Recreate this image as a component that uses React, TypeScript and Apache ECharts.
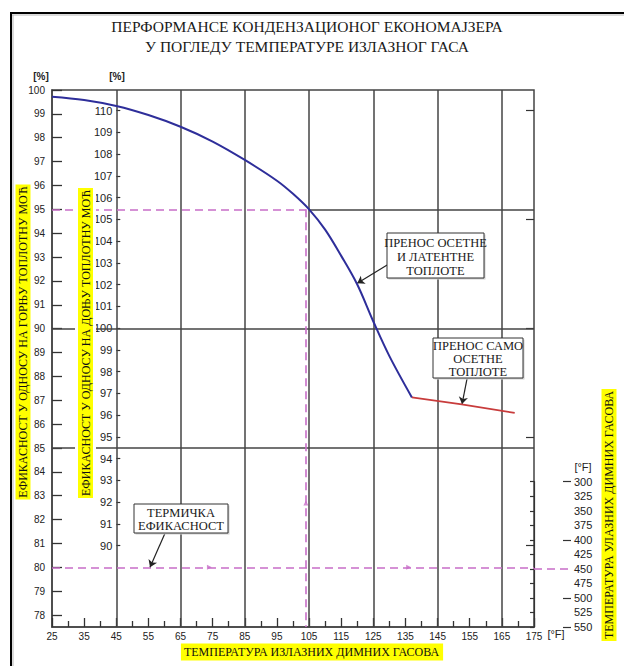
import React, { useEffect, useRef } from "react";
import * as echarts from "echarts";

// ---------- data ----------
const titleLines = [
  "ПЕРФОРМАНСЕ КОНДЕНЗАЦИОНОГ ЕКОНОМАЈЗЕРА",
  "У ПОГЛЕДУ ТЕМПЕРАТУРЕ ИЗЛАЗНОГ ГАСА",
];
const exitTempMin = 25;
const exitTempMax = 175;
const hhvMin = 77.5;
const hhvMax = 100;
const hhvTickMin = 78;
const lhvTickMin = 90;
const lhvTickMax = 110;
const inletTempMin = 300;
const inletTempMax = 550;

const latentX = [25, 35, 45, 55, 65, 75, 85, 95, 100, 105, 110, 115, 120, 125, 130, 137];
const latentY = [99.72, 99.58, 99.33, 98.95, 98.46, 97.84, 97.07, 96.2, 95.65, 95.0, 94.15, 93.05, 91.85, 90.3, 88.85, 87.12];
const sensibleX = [137, 152, 169];
const sensibleY = [87.12, 86.84, 86.47];

const gridVerticals = [45, 65, 85, 105, 125, 145, 165];
const gridHorizontals = [85, 90];
const partialGrid = { y: 95, fromX: 105, toX: 175 };

const markedEff = 95;
const markedExit = 104;
const thermalEff = 80;
const inletMarked = 450;
const guideArrowsUp = [[104, 82.7]];
const guideArrowsRight = [[74, 80], [136, 80]];

const calloutArrows = [
  [[129.3, 92.67], [120, 91.9]],
  [[154.2, 87.93], [152.6, 86.84]],
  [[60.2, 81.44], [55.5, 80.0]],
];

const yLabelHHV = "ЕФИКАСНОСТ У ОДНОСУ НА ГОРЊУ ТОПЛОТНУ МОЋ";
const yLabelLHV = "ЕФИКАСНОСТ У ОДНОСУ НА ДОЊУ ТОПЛОТНУ МОЋ";
const xLabel = "ТЕМПЕРАТУРА ИЗЛАЗНИХ ДИМНИХ ГАСОВА";
const rightLabel = "ТЕМПЕРАТУРА УЛАЗНИХ ДИМНИХ ГАСОВА";
const callout1 = ["ПРЕНОС ОСЕТНЕ", "И ЛАТЕНТНЕ", "ТОПЛОТЕ"];
const callout2 = ["ПРЕНОС САМО", "ОСЕТНЕ", "ТОПЛОТЕ"];
const callout3 = ["ТЕРМИЧКА", "ЕФИКАСНОСТ"];

// ---------- layout ----------
const W = 624;
const H = 666;
const PL = 52;
const PR = 534;
const PT = 90;
const PB = 627;
const yPix = (v: number) => PT + ((hhvMax - v) / (hhvMax - hhvMin)) * (PB - PT);
const INNER_X = 116.3;
const INNER_TOP = 110.5;
const INNER_BOTTOM = 545.7;
const RIGHT_X = 571;
const RIGHT_TOP = 481.7;

const GRID_C = "#444";
const MAGENTA = "#c86ec8";
const SERIF = '"Liberation Serif", "Times New Roman", serif';
const NARROW = '"Liberation Sans Narrow", "Arial Narrow", "Liberation Sans", sans-serif';
const SANS = '"Liberation Sans", Arial, sans-serif';

function calloutBox(x: number, y: number, w: number, h: number, lines: string[], lh: number) {
  return {
    type: "group",
    z: 100,
    children: [
      { type: "rect", shape: { x: x + 1.5, y: y + 1.5, width: w, height: h }, style: { fill: "#cfcfcf" }, z: 100 },
      { type: "rect", shape: { x, y, width: w, height: h }, style: { fill: "#fff", stroke: "#333", lineWidth: 1 }, z: 101 },
      {
        type: "text",
        x: x + w / 2,
        y: y + h / 2 + 1,
        z: 102,
        style: {
          text: lines.join("\n"),
          fill: "#1a1a1a",
          fontSize: 12.5,
          fontFamily: SERIF,
          lineHeight: lh,
          align: "center",
          verticalAlign: "middle",
          textAlign: "center",
          textVerticalAlign: "middle",
        },
      },
    ],
  };
}

function vLabel(cx: number, cy: number, text: string, white: boolean) {
  return {
    type: "text",
    x: cx,
    y: cy,
    rotation: Math.PI / 2,
    z: 110,
    style: {
      text,
      fill: "#111",
      fontSize: 12,
      fontFamily: SERIF,
      backgroundColor: "#ffff00",
      padding: [2, 2, 1, 2],
      borderColor: white ? "#fff" : undefined,
      borderWidth: white ? 3 : 0,
      align: "center",
      verticalAlign: "middle",
      textAlign: "center",
      textVerticalAlign: "middle",
    },
  };
}

export default function App() {
  const ref = useRef<HTMLDivElement>(null);
  useEffect(() => {
    if (!ref.current) return;
    const chart = echarts.init(ref.current, null, { renderer: "svg" });
    const hiddenX = (gridIndex: number, min = 0, max = 1) => ({ type: "value", gridIndex, min, max, show: false });
    const option: any = {
      animation: false,
      backgroundColor: "#fff",
      grid: [
        { left: PL, right: W - PR, top: PT, bottom: H - PB, show: true, borderColor: GRID_C, borderWidth: 1.5, backgroundColor: "transparent" },
        { left: PL, right: W - PR, top: PT, bottom: H - yPix(hhvTickMin) },
        { left: INNER_X, right: W - PR, top: INNER_TOP, bottom: H - INNER_BOTTOM },
        { left: PR, right: W - RIGHT_X, top: RIGHT_TOP, bottom: H - PB },
      ],
      xAxis: [
        {
          type: "value",
          gridIndex: 0,
          min: exitTempMin,
          max: exitTempMax,
          interval: 10,
          axisLine: { show: true, lineStyle: { color: GRID_C, width: 1.5 } },
          axisTick: { show: true, inside: true, length: 9, lineStyle: { color: "#333", width: 1.3 } },
          minorTick: { show: true, splitNumber: 2, length: 6, lineStyle: { color: "#333", width: 1.3 } },
          axisLabel: { color: "#222", fontSize: 10, margin: 4, fontFamily: SANS },
          splitLine: { show: false },
        },
        hiddenX(1, exitTempMin, exitTempMax),
        hiddenX(2, exitTempMin, exitTempMax),
        hiddenX(3, 0, 1),
      ],
      yAxis: [
        {
          type: "value",
          gridIndex: 0,
          min: hhvMin,
          max: hhvMax,
          axisLine: { show: true, lineStyle: { color: GRID_C, width: 1.5 } },
          axisTick: { show: false },
          axisLabel: { show: false },
          splitLine: { show: false },
        },
        {
          type: "value",
          gridIndex: 1,
          min: hhvTickMin,
          max: hhvMax,
          interval: 1,
          axisLine: { show: false },
          axisTick: { show: true, inside: true, length: 10, lineStyle: { color: "#333", width: 1.3 } },
          axisLabel: { color: "#222", fontSize: 10, margin: 7, fontFamily: NARROW },
          splitLine: { show: false },
        },
        {
          type: "value",
          gridIndex: 2,
          min: lhvTickMin,
          max: lhvTickMax,
          interval: 1,
          axisLine: { show: false },
          axisTick: { show: true, inside: true, length: 4, lineStyle: { color: "#333", width: 1.2 } },
          axisLabel: { color: "#222", fontSize: 11, margin: 4, fontFamily: NARROW },
          splitLine: { show: false },
        },
        {
          type: "value",
          gridIndex: 2,
          min: lhvTickMin,
          max: lhvTickMax,
          interval: 5,
          axisLine: { show: false },
          axisTick: { show: true, inside: true, length: 8, lineStyle: { color: "#333", width: 1.2 } },
          axisLabel: { show: false },
          splitLine: { show: false },
        },
        {
          type: "value",
          gridIndex: 3,
          position: "right",
          inverse: true,
          min: inletTempMin,
          max: inletTempMax,
          interval: 25,
          axisLine: { show: true, lineStyle: { color: "#333", width: 1.2 } },
          axisTick: { show: true, inside: true, length: 4, lineStyle: { color: "#333", width: 1.2 } },
          axisLabel: { color: "#222", fontSize: 11, margin: 3, fontFamily: NARROW },
          splitLine: { show: false },
        },
        {
          type: "value",
          gridIndex: 3,
          position: "right",
          inverse: true,
          min: inletTempMin,
          max: inletTempMax,
          interval: 100,
          axisLine: { show: false },
          axisTick: { show: true, inside: true, length: 8, lineStyle: { color: "#333", width: 1.2 } },
          axisLabel: { show: false },
          splitLine: { show: false },
        },
      ],
      series: [
        {
          type: "line",
          xAxisIndex: 0,
          yAxisIndex: 0,
          data: [],
          z: 1,
          silent: true,
          markLine: {
            silent: true,
            symbol: ["none", "none"],
            label: { show: false },
            lineStyle: { color: GRID_C, width: 1.5, type: "solid" },
            data: [
              ...gridVerticals.map((v) => ({ xAxis: v })),
              ...gridHorizontals.map((v) => ({ yAxis: v })),
              [{ coord: [partialGrid.fromX, partialGrid.y] }, { coord: [partialGrid.toX, partialGrid.y] }],
            ],
          },
        },
        {
          type: "line",
          xAxisIndex: 0,
          yAxisIndex: 0,
          data: [],
          z: 3,
          silent: true,
          markLine: {
            silent: true,
            symbol: ["none", "none"],
            label: { show: false },
            lineStyle: { color: MAGENTA, width: 1.6, type: [8, 5] },
            data: [
              [{ coord: [exitTempMin, markedEff] }, { coord: [markedExit, markedEff] }],
              [{ coord: [markedExit, markedEff] }, { coord: [markedExit, hhvMin] }],
              [{ coord: [exitTempMin, thermalEff] }, { coord: [exitTempMax, thermalEff] }],
            ],
          },
        },
        {
          type: "line",
          xAxisIndex: 3,
          yAxisIndex: 4,
          data: [],
          z: 3,
          silent: true,
          markLine: {
            silent: true,
            symbol: ["none", "none"],
            label: { show: false },
            lineStyle: { color: MAGENTA, width: 1.6, type: [8, 5] },
            data: [[{ coord: [0, inletMarked] }, { coord: [1, inletMarked] }]],
          },
        },
        {
          type: "scatter",
          xAxisIndex: 0,
          yAxisIndex: 0,
          z: 4,
          silent: true,
          symbol: "triangle",
          symbolSize: 5,
          itemStyle: { color: MAGENTA },
          data: [
            ...guideArrowsUp.map((p) => ({ value: p, symbolRotate: 0 })),
            ...guideArrowsRight.map((p) => ({ value: p, symbolRotate: -90 })),
          ],
        },
        {
          type: "line",
          xAxisIndex: 0,
          yAxisIndex: 0,
          z: 5,
          silent: true,
          showSymbol: false,
          smooth: 0.35,
          lineStyle: { color: "#2e2e9a", width: 2 },
          data: latentX.map((x, i) => [x, latentY[i]]),
        },
        {
          type: "line",
          xAxisIndex: 0,
          yAxisIndex: 0,
          z: 5,
          silent: true,
          showSymbol: false,
          lineStyle: { color: "#c83c3c", width: 1.8 },
          data: sensibleX.map((x, i) => [x, sensibleY[i]]),
        },
        {
          type: "line",
          xAxisIndex: 0,
          yAxisIndex: 0,
          data: [],
          z: 6,
          silent: true,
          markLine: {
            silent: true,
            symbol: ["none", "arrow"],
            symbolSize: 7,
            label: { show: false },
            lineStyle: { color: "#222", width: 1.2, type: "solid" },
            data: calloutArrows.map(([a, b]) => [{ coord: a }, { coord: b }]),
          },
        },
      ],
      graphic: [
        { type: "line", z: 90, shape: { x1: 11, y1: 13, x2: W, y2: 13 }, style: { stroke: "#000", lineWidth: 2 } },
        { type: "line", z: 90, shape: { x1: 12, y1: 15, x2: W, y2: 15 }, style: { stroke: "#b5b5b5", lineWidth: 1 } },
        { type: "line", z: 90, shape: { x1: 11, y1: 12, x2: 11, y2: H }, style: { stroke: "#000", lineWidth: 2 } },
        { type: "line", z: 90, shape: { x1: 13, y1: 15, x2: 13, y2: H }, style: { stroke: "#b5b5b5", lineWidth: 1 } },
        ...titleLines.map((t, i) => ({
          type: "text",
          x: 307,
          y: 26 + i * 20,
          z: 100,
          style: { text: t, fill: "#1a1a1a", fontSize: 15.5, fontFamily: SERIF, align: "center", verticalAlign: "middle", textAlign: "center", textVerticalAlign: "middle" },
        })),
        { type: "text", x: 41, y: 76, z: 100, style: { text: "[%]", fill: "#222", fontSize: 10, fontWeight: "bold", fontFamily: SANS, align: "center", verticalAlign: "middle" } },
        { type: "text", x: 117, y: 76, z: 100, style: { text: "[%]", fill: "#222", fontSize: 10, fontWeight: "bold", fontFamily: SANS, align: "center", verticalAlign: "middle" } },
        { type: "text", x: 583, y: 467, z: 100, style: { text: "[°F]", fill: "#222", fontSize: 11, fontFamily: SANS, align: "center", verticalAlign: "middle" } },
        { type: "text", x: 556, y: 634, z: 100, style: { text: "[°F]", fill: "#222", fontSize: 11, fontFamily: SANS, align: "center", verticalAlign: "middle" } },
        vLabel(23, 342, yLabelHHV, false),
        vLabel(85.5, 343, yLabelLHV, true),
        vLabel(609, 515, rightLabel, false),
        {
          type: "text",
          x: 312,
          y: 652,
          z: 110,
          style: {
            text: xLabel,
            fill: "#111",
            fontSize: 12,
            fontFamily: SERIF,
            backgroundColor: "#ffff00",
            padding: [3, 4, 2, 3],
            align: "center",
            verticalAlign: "middle",
            textAlign: "center",
            textVerticalAlign: "middle",
          },
        },
        calloutBox(387, 233, 97, 45, callout1, 14),
        calloutBox(433, 338, 90, 40, callout2, 13),
        calloutBox(134, 504, 94, 29, callout3, 13.5),
      ],
    };
    chart.setOption(option);
    return () => chart.dispose();
  }, []);
  return (
    <div
      ref={ref}
      style={{ position: "fixed", left: 0, top: 0, width: W, height: H, background: "#fff" }}
    />
  );
}
